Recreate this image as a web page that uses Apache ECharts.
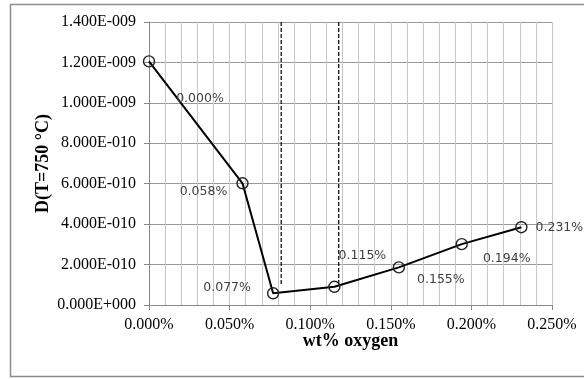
<!DOCTYPE html>
<html>
<head>
<meta charset="utf-8">
<script src="https://cdn.jsdelivr.net/npm/echarts@6/dist/echarts.min.js"></script>
<style>html,body{margin:0;padding:0;background:#fff;}#c{width:584px;height:379px;}</style>
</head>
<body>
<div id="c"></div>
<script>
// ---- data ----
const oxygenPct = [0.000, 0.058, 0.077, 0.115, 0.155, 0.194, 0.231];
const diffusivity = [1.205e-9, 6.02e-10, 5.8e-11, 9.0e-11, 1.86e-10, 3.01e-10, 3.85e-10];
const pointLabels = ['0.000%', '0.058%', '0.077%', '0.115%', '0.155%', '0.194%', '0.231%'];
const dashedX = [0.082, 0.1177];
const dashedTop = 1.4e-9;
const dashedBottom = 1.04e-10;
const xTitle = 'wt% oxygen';
const yTitle = 'D(T=750 \u00B0C)';

function sci(v) {
  if (Math.abs(v) < 1e-20) return '0.000E+000';
  const s = v.toExponential(3);
  const parts = s.split('e');
  let exp = parseInt(parts[1], 10);
  const sign = exp < 0 ? '-' : '+';
  exp = Math.abs(exp);
  return parts[0] + 'E' + sign + String(exp).padStart(3, '0');
}

const labelOffsets = [[51, 37], [-39, 8], [-46, -6], [28, -31], [42, 12], [45, 15], [38, 1]];

const mainData = oxygenPct.map((x, i) => ({
  value: [x, diffusivity[i]],
  label: {
    show: true,
    position: 'inside',
    offset: labelOffsets[i],
    formatter: pointLabels[i]
  }
}));

const dashedSeries = dashedX.map(x => ({
  type: 'line',
  data: [[x, dashedTop], [x, dashedBottom]],
  symbol: 'none',
  lineStyle: { color: '#000', width: 1.2, type: [4, 2] },
  silent: true,
  z: 3
}));

const serif = '"Liberation Serif", "Times New Roman", serif';

const chart = echarts.init(document.getElementById('c'), null, { renderer: 'canvas' });
chart.setOption({
  animation: false,
  backgroundColor: '#fff',
  graphic: [{
    type: 'rect',
    shape: { x: 10.5, y: 4.5, width: 620, height: 372 },
    style: { fill: 'none', stroke: '#8c8c8c', lineWidth: 1.5 },
    z: -1
  }],
  grid: { left: 149, right: 32, top: 22, bottom: 74 },
  xAxis: {
    type: 'value',
    min: 0, max: 0.25, interval: 0.05,
    name: xTitle,
    nameLocation: 'middle',
    nameGap: 36,
    nameMoveOverlap: false,
    nameTextStyle: { fontFamily: serif, fontWeight: 'bold', fontSize: 18, color: '#000', verticalAlign: 'middle', lineHeight: 18 },
    axisLine: { show: true, lineStyle: { color: '#888', width: 1 } },
    axisTick: { show: true, length: 5, lineStyle: { color: '#888' } },
    axisLabel: {
      fontFamily: serif, fontSize: 16, color: '#000', margin: 12,
      formatter: v => v.toFixed(3) + '%'
    },
    splitLine: { show: true, lineStyle: { color: '#c8c8c8', width: 1 } },
    minorTick: { show: false, splitNumber: 5 },
    minorSplitLine: { show: true, lineStyle: { color: '#c8c8c8', width: 1 } }
  },
  yAxis: {
    type: 'value',
    min: 0, max: 1.4e-9, interval: 2e-10,
    name: yTitle,
    nameLocation: 'middle',
    nameGap: 106,
    nameMoveOverlap: false,
    nameRotate: 90,
    nameTextStyle: { fontFamily: serif, fontWeight: 'bold', fontSize: 18, color: '#000', verticalAlign: 'middle', lineHeight: 18 },
    axisLine: { show: true, lineStyle: { color: '#888', width: 1 } },
    axisTick: { show: true, length: 5, lineStyle: { color: '#888' } },
    axisLabel: { fontFamily: serif, fontSize: 16, color: '#000', margin: 13, formatter: v => sci(v) },
    splitLine: { show: true, lineStyle: { color: '#999', width: 1 } }
  },
  series: [{
    type: 'line',
    data: mainData,
    symbol: 'circle',
    symbolSize: 11,
    itemStyle: { color: 'rgba(255,255,255,0)', borderColor: '#222', borderWidth: 1.4 },
    lineStyle: { color: '#000', width: 2 },
    label: { fontFamily: '"DejaVu Sans", Verdana, sans-serif', fontSize: 12.5, color: '#404040' },
    z: 5
  }].concat(dashedSeries)
});
</script>
</body>
</html>
